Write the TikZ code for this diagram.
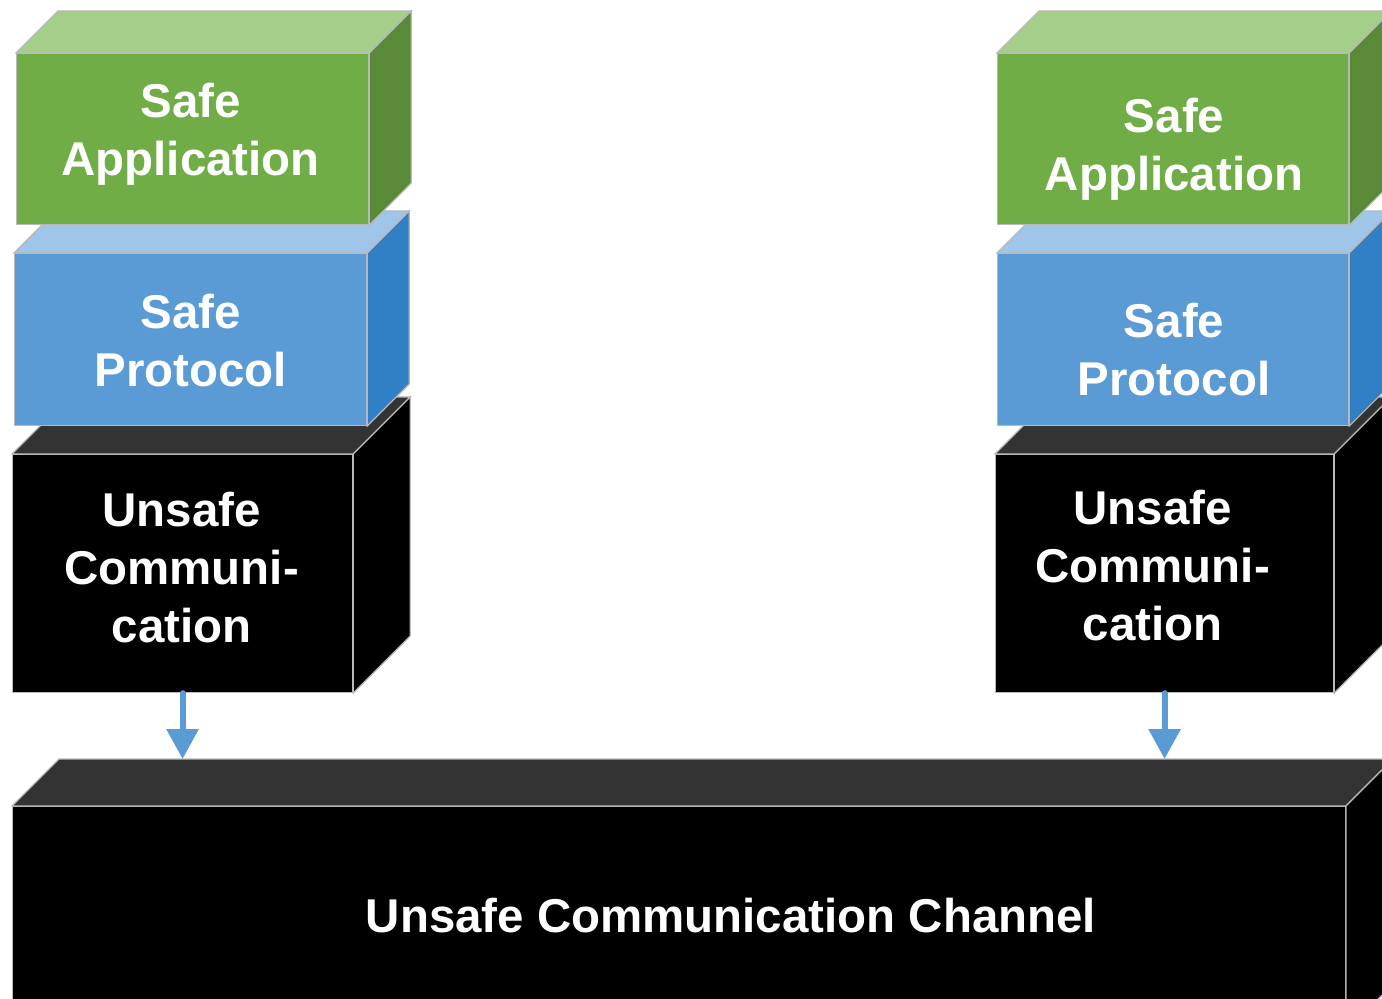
\documentclass[tikz,border=0pt]{standalone}
\usepackage{fontspec}
\setmainfont{Liberation Sans}
\usetikzlibrary{calc,arrows.meta}

\definecolor{apptop}{HTML}{A6CE8B}
\definecolor{appfront}{HTML}{70AD47}
\definecolor{appside}{HTML}{588A37}
\definecolor{prototop}{HTML}{9FC5E8}
\definecolor{protofront}{HTML}{5B9BD5}
\definecolor{protoside}{HTML}{3180C6}
\definecolor{unsafetop}{HTML}{333333}
\definecolor{flowblue}{HTML}{5B9BD5}

\tikzset{
  edge/.style={draw=gray!55, line width=0.7pt},
  face/.style={edge, anchor=north west},
  app/.style={face, fill=appfront},
  proto/.style={face, fill=protofront},
  unsafe/.style={face, fill=black},
  lbl/.style={align=center, text=white, font=\fontsize{27}{33}\selectfont\bfseries},
  flow/.style={draw=flowblue, line width=3.4pt, line cap=round,
    -{Triangle[width=0.62cm,length=0.6cm]}}
}

% top and side faces of a box: node, depth, top colour, side colour
\newcommand{\boxfaces}[4]{%
  \draw[edge, fill=#3] (#1.north west) -- ++(#2,-#2) -- ($(#1.north east)+(#2,-#2)$) -- (#1.north east) -- cycle;
  \draw[edge, fill=#4] (#1.north east) -- ++(#2,-#2) -- ($(#1.south east)+(#2,-#2)$) -- (#1.south east) -- cycle;
}

\begin{document}
\begin{tikzpicture}[x=0.02cm, y=-0.02cm]
        \useasboundingbox (0,0) rectangle (1382,999);
        \clip (0,0) rectangle (1382,999);
        \fill[white] (0,0) rectangle (1382,999);

        % channel
        \node[unsafe, minimum width=26.66cm, minimum height=4.48cm] (ch) at (12,806) {};
        \boxfaces{ch}{47}{unsafetop}{black}
        \coordinate (chtop) at ($(ch.north west)+(47,-47)$);
        \node[lbl] (chtxt) at ($(ch.center)+(52,-3)$) {Unsafe Communication Channel};

        % left stack
        \node[unsafe, minimum width=6.8cm, minimum height=4.76cm] (ucL) at (12,454) {};
        \boxfaces{ucL}{57}{unsafetop}{black}
        \node[lbl] (ucLtxt) at ($(ucL.center)+(-1,-6)$) {Unsafe\\Communi-\\cation};
        \node[proto, minimum width=7.04cm, minimum height=3.44cm] (spL) at (14,253) {};
        \boxfaces{spL}{42}{prototop}{protoside}
        \node[lbl] (spLtxt) at ($(spL.center)+(0,1)$) {Safe\\Protocol};
        \node[app, minimum width=7.04cm, minimum height=3.42cm] (saL) at (16,53) {};
        \boxfaces{saL}{42}{apptop}{appside}
        \node[lbl] (saLtxt) at ($(saL.center)+(-2,-5)$) {Safe\\Application};

        % right stack
        \node[unsafe, minimum width=6.76cm, minimum height=4.76cm] (ucR) at (995,454) {};
        \boxfaces{ucR}{57}{unsafetop}{black}
        \node[lbl] (ucRtxt) at ($(ucR.center)+(-12,-8)$) {Unsafe\\Communi-\\cation};
        \node[proto, minimum width=7.02cm, minimum height=3.44cm] (spR) at (997,253) {};
        \boxfaces{spR}{42}{prototop}{protoside}
        \node[lbl] (spRtxt) at ($(spR.center)+(1,10)$) {Safe\\Protocol};
        \node[app, minimum width=7.02cm, minimum height=3.42cm] (saR) at (997,53) {};
        \boxfaces{saR}{42}{apptop}{appside}
        \node[lbl] (saRtxt) at ($(saR.center)+(1,10)$) {Safe\\Application};

        \draw[flow] (ucL.south) -- (ucL.south |- chtop);
        \draw[flow] (ucR.south) -- (ucR.south |- chtop);
\end{tikzpicture}
\end{document}
